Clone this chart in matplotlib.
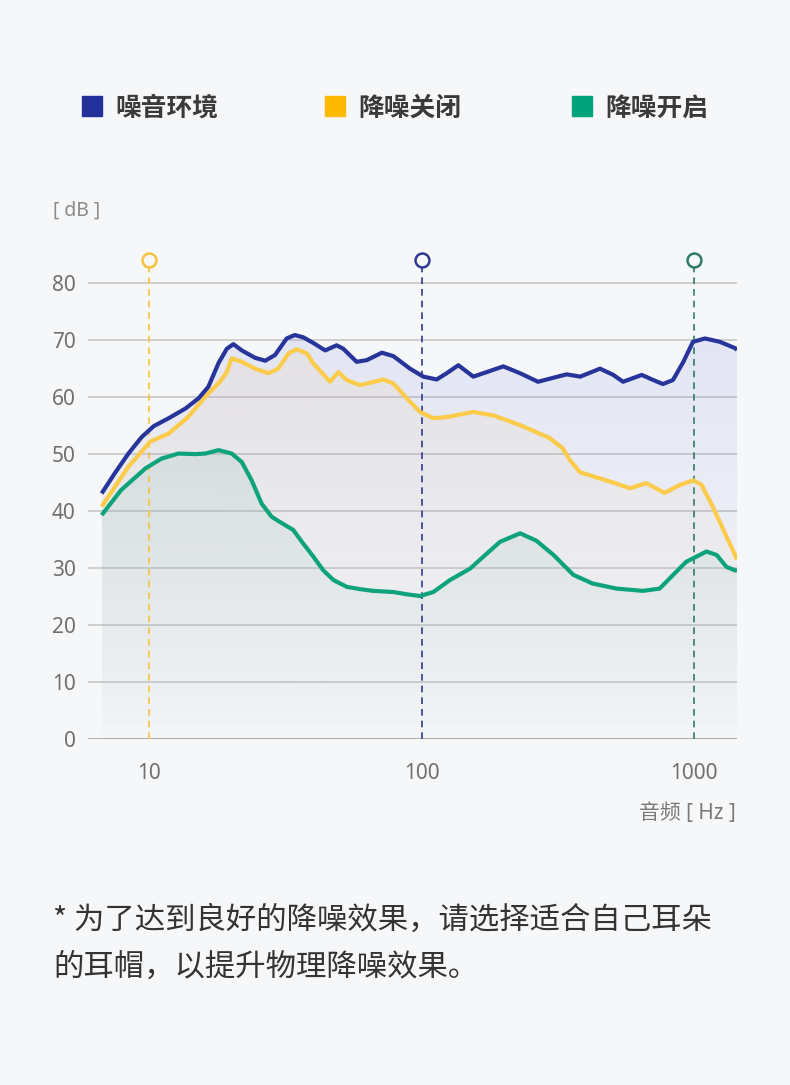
import numpy as np
import matplotlib
matplotlib.use('Agg')
import matplotlib.pyplot as plt
from matplotlib.colors import to_rgb
from matplotlib.patches import Rectangle

plt.rcParams['font.family'] = ['Noto Sans CJK SC', 'DejaVu Sans']

# data (Hz, dB)
env_hz = [6.7, 7.5, 8.4, 9.4, 10.4, 11.8, 13.6, 15.2, 16.5, 18.0, 19.3, 20.4, 21.9, 24.5,
          26.7, 29.0, 32.0, 34.3, 36.8, 40.1, 44.3, 48.8, 51.6, 57.8, 63.0, 71.5, 78.8,
          90.7, 101.5, 113.7, 123.7, 136.5, 154.9, 173.5, 199.6, 229.9, 267.6, 304.6,
          341, 382, 452, 505.6, 549, 643, 709, 769, 837, 914, 991, 1097, 1246, 1414, 1438]
env_db = [43.1, 46.7, 50.1, 53.0, 54.9, 56.3, 58.0, 59.8, 61.8, 66.0, 68.5, 69.3, 68.2, 66.9,
          66.4, 67.4, 70.3, 70.9, 70.5, 69.5, 68.2, 69.1, 68.5, 66.2, 66.5, 67.8, 67.2,
          65.0, 63.6, 63.1, 64.2, 65.6, 63.6, 64.4, 65.4, 64.2, 62.7, 63.4,
          64.0, 63.6, 65.0, 63.9, 62.7, 63.9, 63.0, 62.3, 63.0, 66.2, 69.7, 70.3, 69.7, 68.6, 68.3]

off_hz = [6.7, 8.4, 10.1, 11.8, 13.9, 16.1, 18.2, 19.3, 20.1, 21.9, 24.5, 27.4, 29.8, 32.5,
          34.8, 37.9, 40.1, 46.2, 49.5, 53.1, 59.5, 72.4, 78.8, 88.3, 98.7, 110.5, 123.7,
          154.9, 183.4, 229.9, 296, 330, 351, 382, 440, 506, 582, 668, 781, 888, 995,
          1066, 1171, 1300, 1414, 1438]
off_db = [40.8, 47.8, 52.2, 53.6, 56.5, 60.1, 62.7, 64.4, 66.8, 66.2, 65.0, 64.2, 65.0, 67.7,
          68.4, 67.7, 65.9, 62.7, 64.4, 63.0, 62.1, 63.1, 62.4, 59.8, 57.4, 56.3, 56.5,
          57.4, 56.8, 55.1, 52.8, 51.0, 48.9, 46.8, 45.9, 45.0, 44.0, 44.9, 43.2, 44.6, 45.4,
          44.6, 40.8, 36.1, 32.3, 31.5]

on_hz = [6.7, 7.9, 9.7, 11.1, 12.8, 14.8, 16.1, 18.0, 20.1, 21.9, 23.8, 25.9, 28.2, 30.2,
         33.8, 36.8, 40.1, 43.6, 47.5, 53.2, 59.5, 66.3, 78.8, 88.3, 98.7, 110.5, 127.2,
         150.7, 168.6, 194, 230, 264, 305, 361, 424, 519, 650, 748, 838, 936, 1111, 1211,
         1316, 1414, 1438]
on_db = [39.3, 43.7, 47.5, 49.2, 50.1, 50.0, 50.1, 50.7, 50.1, 48.6, 45.4, 41.3, 39.0, 38.1,
         36.7, 34.3, 32.0, 29.6, 27.9, 26.7, 26.3, 26.0, 25.8, 25.4, 25.1, 25.8, 27.9,
         29.9, 32.0, 34.6, 36.1, 34.8, 32.3, 28.8, 27.3, 26.4, 26.0, 26.4, 28.8, 31.1, 32.9, 32.3,
         30.2, 29.6, 29.5]

names = ['噪音环境', '降噪关闭', '降噪开启']
line_colors = ['#27349A', '#FCCB4A', '#0FA37C']
legend_colors = ['#23309A', '#FDB900', '#00A37A']
marker_hz = [10, 100, 1000]
marker_colors = ['#F7C33C', '#2F3A8F', '#2E7D66']
yticks = [0, 10, 20, 30, 40, 50, 60, 70, 80]
xticks = [10, 100, 1000]

bg = '#F6F7F9'
W, H = 790, 1085
fig = plt.figure(figsize=(W / 100, H / 100), dpi=100, facecolor=bg)


def fx(px):
    return px / W


def fy(py):
    return 1 - py / H


ax = fig.add_axes([fx(88), fy(739), fx(737) - fx(88), (739 - 249) / H])
ax.set_facecolor('none')
ax.set_xscale('log')
ax.set_xlim(5.97, 1438)
ax.set_ylim(0, 86)
for s in ax.spines.values():
    s.set_visible(False)

for t in yticks:
    ax.axhline(t, color='#a0a0a0' if t == 0 else '#c8c8c8', lw=1.2, zorder=1)


def grad_fill(x, y, color, a_top, a_bot, z):
    poly = ax.fill_between(x, y, 0, color='none', lw=0)
    path = poly.get_paths()[0]
    rgba = np.zeros((256, 1, 4))
    rgba[..., :3] = to_rgb(color)
    rgba[..., 3] = np.linspace(a_top, a_bot, 256)[:, None]
    im = ax.imshow(rgba, aspect='auto', extent=[min(x), max(x), 0, max(y)],
                   origin='upper', zorder=z, interpolation='bilinear')
    im.set_clip_path(path, ax.transData)


grad_fill(env_hz, env_db, '#6A74D0', 0.14, 0.0, 2)
grad_fill(off_hz, off_db, '#E6CC95', 0.16, 0.0, 3)
grad_fill(on_hz, on_db, '#86B8A9', 0.17, 0.02, 4)

ax.set_xlim(5.97, 1438)
ax.set_ylim(0, 86)

for hz, c in zip(marker_hz, marker_colors):
    ax.plot([hz, hz], [0, 83.2], color=c, lw=1.2, ls=(0, (4, 3)), zorder=5)
    ax.plot([hz], [84], marker='o', ms=10, mfc=bg, mec=c, mew=1.8, zorder=6, clip_on=False)

for x, y, c in [(on_hz, on_db, line_colors[2]), (off_hz, off_db, line_colors[1]),
                (env_hz, env_db, line_colors[0])]:
    ax.plot(x, y, color=c, lw=3.0, solid_joinstyle='round', solid_capstyle='butt', zorder=7)

ax.set_yticks(yticks)
ax.set_yticklabels([str(t) for t in yticks], family='Noto Sans')
ax.set_xticks(xticks)
ax.set_xticklabels([str(t) for t in xticks], family='Noto Sans')
ax.minorticks_off()
ax.tick_params(axis='y', length=0, pad=9, labelsize=15, labelcolor='#707070')
ax.tick_params(axis='x', length=0, pad=17, labelsize=15, labelcolor='#707070')

fig.text(fx(53), fy(211), '[ dB ]', fontsize=14, color='#8a8a8a', va='center', ha='left',
         family='Noto Sans')
fig.text(fx(736), fy(813), '音频 [ Hz ]', fontsize=15, color='#7a7a7a', va='center',
         ha='right', family=['Noto Sans', 'Noto Sans CJK SC'])

# legend
for name, c, sx in zip(names, legend_colors, [82, 325, 572]):
    fig.patches.append(Rectangle((fx(sx), fy(116)), fx(20), 20 / H, color=c,
                                 transform=fig.transFigure, figure=fig))
    fig.text(fx(sx + 33), fy(108), name, fontsize=18.5, fontweight='bold',
             color='#3a3a3a', va='center', ha='left')

fig.text(fx(53), fy(920), '* 为了达到良好的降噪效果，请选择适合自己耳朵', fontsize=21.9,
         color='#333333', va='center', ha='left')
fig.text(fx(53), fy(967), '的耳帽，以提升物理降噪效果。', fontsize=21.9,
         color='#333333', va='center', ha='left')

fig.savefig('out.png', dpi=100, facecolor=bg)
